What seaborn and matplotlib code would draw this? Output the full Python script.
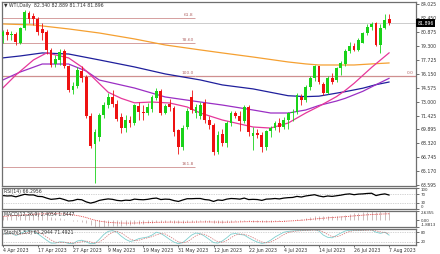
import numpy as np
import pandas as pd
import matplotlib
matplotlib.use("Agg")
import matplotlib.pyplot as plt
import matplotlib.transforms as mtransforms
import seaborn as sns

# ---------------- data ----------------
opens = [80.4, 80.9, 80.5, 80.7, 79.7, 81.3, 83.0, 82.7, 82.4, 81.2,
         80.9, 78.9, 77.3, 77.7, 78.7, 77.0, 74.3, 74.8, 76.5, 75.8,
         71.4, 68.3, 69.0, 71.5, 72.6, 73.5, 72.8, 71.3, 70.1, 71.0,
         70.6, 72.5, 71.9, 71.8, 72.2, 73.4, 74.2, 71.8, 72.8, 72.3,
         69.8, 67.9, 70.2, 73.6, 71.8, 71.4, 72.9, 71.0, 70.4, 67.4,
         69.4, 68.4, 70.6, 71.7, 71.4, 70.8, 72.4, 69.2, 69.5, 69.3,
         67.9, 69.7, 70.1, 70.6, 70.2, 71.0, 71.8, 71.9, 73.6, 73.2,
         74.7, 75.7, 77.0, 75.0, 74.0, 75.7, 75.5, 76.8, 77.3, 78.8,
         79.3, 78.9, 79.7, 80.8, 81.5, 81.9, 79.4, 81.4, 82.340]
highs = [81.1, 81.2, 81.0, 80.9, 81.5, 83.4, 83.3, 83.0, 82.6, 81.9,
         81.1, 79.1, 78.3, 79.0, 79.0, 77.2, 75.2, 76.9, 77.0, 76.0,
         71.8, 70.0, 71.8, 73.0, 74.0, 74.3, 73.2, 71.7, 71.5, 71.4,
         72.8, 73.0, 72.6, 72.9, 73.8, 74.6, 74.5, 72.8, 73.3, 72.5,
         70.0, 70.4, 72.3, 74.4, 72.8, 73.0, 73.3, 71.4, 70.6, 69.7,
         70.0, 70.8, 72.0, 72.0, 72.0, 72.6, 72.7, 70.2, 69.9, 69.6,
         69.8, 70.3, 70.9, 71.2, 71.3, 71.9, 72.2, 74.0, 73.9, 74.9,
         75.9, 77.2, 77.1, 75.3, 75.9, 76.3, 76.9, 77.6, 79.0, 79.8,
         79.6, 80.2, 80.9, 81.8, 82.0, 82.0, 81.8, 82.9, 82.889]
lows = [79.7, 80.0, 80.0, 79.4, 79.5, 81.1, 81.9, 81.7, 80.6, 80.0,
        78.4, 76.9, 76.9, 77.2, 76.8, 74.1, 73.9, 74.6, 75.2, 71.2,
        67.8, 63.9, 68.6, 71.2, 72.3, 72.4, 70.8, 69.5, 69.6, 70.2,
        70.4, 71.0, 71.0, 71.5, 71.9, 73.2, 71.5, 71.6, 72.0, 69.2,
        67.1, 67.6, 70.0, 71.8, 71.2, 71.1, 70.6, 70.0, 67.0, 67.1,
        68.0, 67.9, 70.3, 71.2, 69.7, 70.6, 69.2, 67.6, 68.9, 67.4,
        67.6, 69.0, 69.8, 69.6, 70.0, 69.9, 70.9, 71.6, 72.6, 73.0,
        74.4, 75.4, 75.0, 73.8, 73.9, 75.0, 75.3, 76.0, 77.1, 78.5,
        78.7, 78.7, 79.6, 80.5, 81.1, 79.3, 78.5, 81.2, 81.714]
closes = [80.9, 80.5, 80.7, 79.8, 81.3, 83.1, 82.4, 82.4, 80.9, 80.8,
          78.9, 77.2, 77.8, 78.6, 77.0, 74.4, 74.8, 76.6, 75.7, 71.4,
          68.0, 69.6, 71.5, 72.6, 73.6, 72.8, 71.1, 70.1, 71.0, 70.6,
          72.6, 71.9, 71.7, 72.4, 73.5, 74.2, 71.8, 72.5, 72.4, 69.6,
          67.9, 70.1, 72.0, 72.1, 72.4, 72.7, 71.0, 70.4, 67.3, 69.3,
          68.4, 70.6, 71.7, 71.4, 70.8, 72.4, 69.6, 69.5, 69.3, 67.9,
          69.7, 70.1, 70.6, 70.2, 71.0, 71.8, 71.9, 73.8, 73.2, 74.7,
          75.7, 77.0, 75.2, 74.0, 75.7, 75.3, 76.8, 77.4, 78.8, 79.3,
          78.9, 80.0, 80.8, 81.5, 81.8, 79.4, 81.3, 82.3, 81.896]

# moving averages (read at a few bars)
ma200_bar = [0, 7, 15, 22, 30, 37, 45, 50, 57, 65, 69, 72, 80, 84, 88]
ma200_val = [81.80, 81.69, 81.24, 80.78, 80.11, 79.43, 78.87, 78.53, 78.07, 77.51,
             77.29, 77.17, 77.17, 77.29, 77.40]
ma100_bar = [0, 4, 9, 15, 22, 30, 37, 45, 50, 57, 65, 69, 72, 78, 82, 85, 88]
ma100_val = [77.97, 78.19, 78.53, 78.41, 77.74, 76.95, 76.16, 75.48, 74.92, 74.47,
             73.70, 73.60, 73.65, 74.16, 74.55, 74.95, 75.25]
ma50_bar = [0, 4, 9, 15, 19, 22, 30, 37, 45, 50, 57, 61, 65, 69, 72, 76, 78, 82, 85, 88]
ma50_val = [75.47, 76.38, 77.28, 77.28, 76.49, 75.47, 74.57, 73.56, 72.99, 72.65,
            72.09, 71.75, 71.75, 72.09, 72.60, 73.10, 73.41, 74.20, 74.95, 75.67]
ma20_bar = [0, 3, 7, 10, 15, 18, 20, 24, 27, 30, 34, 38, 42, 45, 50, 57, 61, 65,
            69, 72, 76, 78, 80, 84, 88]
ma20_val = [74.56, 76.04, 77.74, 78.53, 77.97, 76.95, 76.04, 74.10, 73.40, 72.90,
            72.99, 72.88, 72.43, 71.75, 70.96, 70.17, 70.05, 70.62, 71.75, 72.50,
            73.60, 74.30, 75.10, 76.90, 78.55]

rsi = [64, 62, 63, 58, 64, 70, 67, 67, 60, 59, 52, 46, 48, 51, 45, 38, 40, 46, 44, 34,
       28, 33, 41, 45, 48, 46, 41, 39, 42, 41, 47, 45, 44, 46, 50, 52, 45, 47, 46, 40,
       36, 43, 49, 49, 50, 50, 45, 43, 36, 43, 41, 47, 50, 49, 47, 52, 45, 46, 45, 41,
       47, 48, 50, 48, 52, 54, 55, 60, 57, 62, 65, 68, 62, 58, 62, 60, 63, 66, 70, 72,
       68, 71, 72, 74, 75, 64, 69, 72, 66.3]

macd = [1.20, 1.35, 1.45, 1.45, 1.60, 1.85, 1.95, 2.00, 1.85, 1.70,
        1.40, 1.00, 0.80, 0.70, 0.45, 0.05, -0.20, -0.25, -0.35, -0.75,
        -1.30, -1.75, -1.88, -1.80, -1.65, -1.55, -1.50, -1.50, -1.40, -1.35,
        -1.15, -1.05, -0.98, -0.88, -0.70, -0.50, -0.55, -0.50, -0.45, -0.62,
        -0.85, -0.80, -0.60, -0.50, -0.40, -0.30, -0.35, -0.42, -0.65, -0.65,
        -0.70, -0.58, -0.40, -0.30, -0.28, -0.15, -0.25, -0.33, -0.38, -0.50,
        -0.45, -0.38, -0.28, -0.25, -0.15, 0.00, 0.10, 0.35, 0.45, 0.65,
        0.90, 1.15, 1.20, 1.10, 1.15, 1.15, 1.20, 1.35, 1.60, 1.85,
        1.95, 2.10, 2.25, 2.45, 2.55, 2.40, 2.50, 2.64, 2.41]
macd_sig = [1.10, 1.20, 1.30, 1.38, 1.46, 1.55, 1.64, 1.72, 1.78, 1.82,
            1.85, 1.87, 1.87, 1.84, 1.78, 1.68, 1.55, 1.35, 1.10, 0.80,
            0.40, 0.05, -0.20, -0.40, -0.55, -0.65, -0.72, -0.76, -0.78, -0.78,
            -0.76, -0.72, -0.68, -0.64, -0.60, -0.56, -0.54, -0.52, -0.50, -0.50,
            -0.52, -0.54, -0.54, -0.52, -0.50, -0.47, -0.45, -0.45, -0.48, -0.50,
            -0.52, -0.52, -0.50, -0.47, -0.44, -0.40, -0.38, -0.37, -0.38, -0.40,
            -0.41, -0.40, -0.38, -0.35, -0.30, -0.20, -0.14, -0.06, 0.03, 0.13,
            0.25, 0.38, 0.50, 0.60, 0.70, 0.80, 0.88, 0.96, 1.05, 1.15,
            1.25, 1.36, 1.46, 1.55, 1.63, 1.70, 1.76, 1.81, 1.84]

stoch_k = [70, 68, 72, 60, 70, 85, 88, 86, 70, 50, 30, 12, 12, 20, 18, 10, 8, 25, 30, 20,
           8, 10, 35, 65, 85, 90, 80, 55, 35, 22, 28, 40, 45, 50, 62, 80, 72, 55, 35, 18,
           8, 15, 38, 62, 75, 70, 55, 35, 15, 12, 25, 45, 68, 72, 66, 62, 45, 30, 18, 10,
           15, 30, 50, 65, 80, 85, 88, 90, 90, 92, 93, 95, 88, 62, 48, 45, 60, 75, 88, 92,
           90, 90, 92, 94, 94, 80, 73, 80, 61.29]
stoch_d = [68, 69, 70, 67, 67, 72, 81, 86, 81, 69, 50, 31, 18, 15, 17, 16, 12, 14, 21, 25,
           19, 13, 18, 37, 62, 80, 85, 75, 57, 37, 28, 30, 38, 45, 52, 64, 71, 69, 54, 36,
           20, 14, 20, 38, 58, 69, 67, 53, 35, 21, 17, 27, 46, 62, 69, 67, 58, 46, 31, 19,
           14, 18, 32, 48, 65, 77, 84, 88, 89, 91, 92, 93, 92, 82, 66, 52, 51, 60, 74, 85,
           90, 91, 91, 92, 93, 89, 82, 78, 71.49]

price_ticks = [84.025, 82.450, 80.875, 79.300, 77.725, 76.150, 74.575, 73.000,
               71.425, 69.895, 68.320, 66.745, 65.170, 63.595]
price_tick_labels = ["84.025", "82.450", "80.875", "79.300", "77.725", "76.150", "74.575",
                     "73.000", "71.425", "69.895", "68.320", "66.745", "65.170", "63.595"]
date_labels = ["4 Apr 2023", "17 Apr 2023", "27 Apr 2023", "9 May 2023", "19 May 2023",
               "31 May 2023", "12 Jun 2023", "22 Jun 2023", "4 Jul 2023", "14 Jul 2023",
               "26 Jul 2023", "7 Aug 2023"]
date_bars = [0, 8, 16, 24, 32, 40, 48, 56, 64, 72, 80, 88]

fib_names = ["61.8", "78.60", "100.0", "161.8"]
fib_levels = [82.45, 79.62, 75.93, 65.62]
fib0_level = 75.93
last_price = 81.896

# ---------------- style ----------------
sns.set_theme(style="white")
plt.rcParams["font.family"] = ["DejaVu Sans"]
FS = 3.35
FS_SMALL = 2.9
GREEN = "#19d219"
RED = "#ee1111"
FRAME = "#6f6f6f"

W, H = 440, 254
fig = plt.figure(figsize=(W / 100, H / 100), dpi=100)
fig.patch.set_facecolor("white")


def add_ax(top, bottom, left=2, right=416):
    return fig.add_axes([left / W, 1 - bottom / H, (right - left) / W, (bottom - top) / H])


ax = add_ax(2, 186)
ax_rsi = add_ax(188, 209)
ax_macd = add_ax(211, 227)
ax_st = add_ax(229, 245)

XL = (-0.16, 94.1)
n = len(closes)
bars = np.arange(n)
df = pd.DataFrame({"bar": bars, "open": opens, "high": highs, "low": lows, "close": closes,
                   "rsi": rsi, "macd": macd, "sig": macd_sig, "k": stoch_k, "d": stoch_d})
up = df["close"] >= df["open"]
colors = np.where(up, GREEN, RED)

# ---- main panel ----
ax.axhline(last_price, color="#c4c4c4", lw=0.6, zorder=1)
fib_end = 43.8
for name, lev in zip(fib_names, fib_levels):
    lw = 0.9 if name == "100.0" else 0.6
    ax.hlines(lev, XL[0], fib_end, color="#cf8f8f", lw=lw, zorder=1)
    ax.text(fib_end - 0.3, lev + 0.12, name, fontsize=FS - 0.2, color="#b46a6a",
            ha="right", va="bottom")
ax.hlines(fib0_level, fib_end, XL[1], color="#cf8f8f", lw=0.9, zorder=1)
ax.text(93.6, fib0_level + 0.12, "0.0", fontsize=FS - 0.2, color="#b46a6a",
        ha="right", va="bottom")

sns.lineplot(x=ma200_bar, y=ma200_val, ax=ax, color="#f5a031", lw=0.9, zorder=2)
sns.lineplot(x=ma100_bar, y=ma100_val, ax=ax, color="#1f1f9c", lw=0.9, zorder=2)
sns.lineplot(x=ma50_bar, y=ma50_val, ax=ax, color="#9b2fc4", lw=0.9, zorder=2)
sns.lineplot(x=ma20_bar, y=ma20_val, ax=ax, color="#e6379a", lw=0.9, zorder=2)

ax.vlines(df["bar"], df["low"], df["high"], colors=colors, lw=0.6, zorder=3)
body_lo = np.minimum(df["open"], df["close"])
body_h = np.maximum(np.abs(df["close"] - df["open"]), 0.06)
ax.bar(df["bar"], body_h, bottom=body_lo, width=0.64, color=colors, lw=0, zorder=4)

ax.set_xlim(*XL)
ax.set_ylim(63.51, 84.28)
ax.yaxis.tick_right()
ax.set_yticks(price_ticks)
ax.set_yticklabels(price_tick_labels)
ax.set_xticks([])
ax.set_xlabel("")
ax.set_ylabel("")
ax.tick_params(axis="y", which="both", right=True, length=2, width=0.5, pad=1.2,
               labelsize=FS, colors="#333333", direction="out")

trans = mtransforms.blended_transform_factory(ax.transAxes, ax.transData)
ax.text(1.004, last_price, "81.896", transform=trans, fontsize=FS, color="white",
        ha="left", va="center",
        bbox=dict(boxstyle="square,pad=0.25", fc="black", ec="black", lw=0))

ax.text(0.006, 0.992, "\u25bc WTI,Daily  82.340 82.889 81.714 81.896", transform=ax.transAxes,
        fontsize=FS, color="#333333", ha="left", va="top")

# ---- RSI ----
ax_rsi.axhline(70, color="#aaaaaa", lw=0.5, ls=(0, (1, 1.5)))
ax_rsi.axhline(30, color="#aaaaaa", lw=0.5, ls=(0, (1, 1.5)))
sns.lineplot(data=df, x="bar", y="rsi", ax=ax_rsi, color="black", lw=0.9)
ax_rsi.set_ylim(0, 100)
ax_rsi.set_yticks([100, 70, 30, 0])
ax_rsi.set_yticklabels(["100", "70", "30", "0"])
ax_rsi.text(0.006, 0.96, "RSI(14) 66.2956", transform=ax_rsi.transAxes, fontsize=FS,
            color="#333333", ha="left", va="top")

# ---- MACD ----
ax_macd.vlines(df["bar"], 0, df["macd"], colors="#b9a3a3", lw=0.5)
sns.lineplot(data=df, x="bar", y="sig", ax=ax_macd, color="#e02020", lw=0.6,
             linestyle=(0, (1, 1.2)))
ax_macd.set_ylim(-1.8813, 2.6355)
ax_macd.set_yticks([2.6355, 0.0, -1.8813])
ax_macd.set_yticklabels(["2.6355", "0.00", "-1.8813"])
ax_macd.text(0.006, 0.96, "MACD(12,26,9) 2.4054 1.8447", transform=ax_macd.transAxes,
             fontsize=FS, color="#333333", ha="left", va="top")

# ---- Stochastic ----
ax_st.axhline(80, color="#aaaaaa", lw=0.5, ls=(0, (1, 1.5)))
ax_st.axhline(20, color="#aaaaaa", lw=0.5, ls=(0, (1, 1.5)))
sns.lineplot(data=df, x="bar", y="k", ax=ax_st, color="#7fcfcf", lw=0.6)
sns.lineplot(data=df, x="bar", y="d", ax=ax_st, color="#d07070", lw=0.5,
             linestyle=(0, (2, 1.5)))
ax_st.set_ylim(0, 100)
ax_st.set_yticks([80, 20])
ax_st.set_yticklabels(["80", "20"])
ax_st.text(0.006, 0.96, "Stoch(5,3,3) 61.2944 71.4921", transform=ax_st.transAxes,
           fontsize=FS, color="#333333", ha="left", va="top")

for a in (ax_rsi, ax_macd, ax_st):
    a.set_xlim(*XL)
    a.yaxis.tick_right()
    a.set_xlabel("")
    a.set_ylabel("")
    a.tick_params(axis="y", right=True, length=2, width=0.5, pad=1.2, labelsize=FS_SMALL,
                  colors="#333333", direction="out")
    a.set_xticks([])

for a in (ax_rsi, ax_macd):
    labs = a.get_yticklabels()
    labs[0].set_va("top")
    labs[-1].set_va("bottom")

ax_st.set_xticks(date_bars)
ax_st.set_xticklabels(date_labels, ha="left")
ax_st.tick_params(axis="x", bottom=True, length=1.5, width=0.5, pad=1.0, labelsize=FS,
                  colors="#333333", direction="out")

for a in (ax, ax_rsi, ax_macd, ax_st):
    a.set_facecolor("white")
    a.grid(False)
    for s in a.spines.values():
        s.set_color(FRAME)
        s.set_linewidth(0.9)
        s.set_visible(True)
    leg = a.get_legend()
    if leg is not None:
        leg.remove()

fig.savefig("out.png", dpi=100, facecolor="white")
